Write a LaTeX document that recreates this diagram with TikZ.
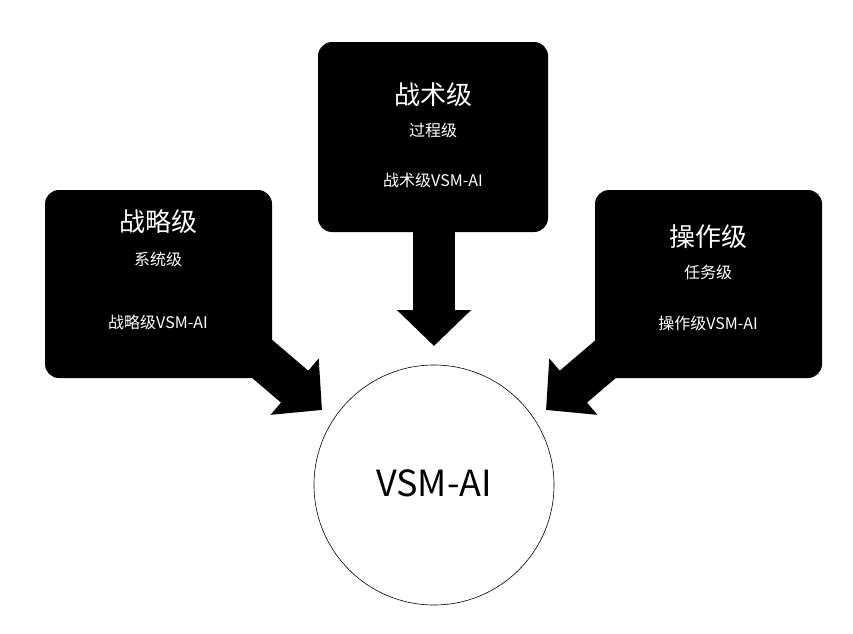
\documentclass[tikz,border=0pt]{standalone}
\usepackage{fontspec}
\setmainfont{Noto Sans CJK SC}
\usetikzlibrary{arrows.meta}
\begin{document}
\begin{tikzpicture}[x=1pt,y=-1pt,
 box/.style={fill=black,rounded corners=14pt,draw=none},
 big/.style={-{Triangle[width=72pt,length=36pt]},line width=42pt,black},
 t1/.style={white,font=\fontsize{26}{30}\selectfont},
 t2/.style={white,font=\fontsize{16}{20}\selectfont}]
\useasboundingbox (0,0) rectangle (853,633);
\fill[box] (45,190) rectangle (272,378);
\fill[box] (318,42) rectangle (548,232);
\fill[box] (595,190) rectangle (822,378);
\node[circle,draw=black,line width=0.6pt,minimum size=240pt,inner sep=0] (c) at (434,485) {};
\node[font=\fontsize{36}{40}\selectfont] (cl) at (434,483) {VSM-AI};
\coordinate (ls) at (240,340); \coordinate (lt) at (322,410);
\coordinate (ms) at (434,230); \coordinate (mt) at (434,346);
\coordinate (rs) at (628,340); \coordinate (rt) at (546,410);
\draw[big] (ls) -- (lt);
\draw[big] (ms) -- (mt);
\draw[big] (rs) -- (rt);
\node[t1] (a1) at (158,222) {战略级};
\node[t2] (a2) at (158,259) {系统级};
\node[t2] (a3) at (158,322) {战略级VSM-AI};
\node[t1] (b1) at (433,95) {战术级};
\node[t2] (b2) at (433,130) {过程级};
\node[t2] (b3) at (433,180) {战术级VSM-AI};
\node[t1] (c1) at (708,237) {操作级};
\node[t2] (c2) at (708,272) {任务级};
\node[t2] (c3) at (708,323) {操作级VSM-AI};
\end{tikzpicture}
\end{document}
